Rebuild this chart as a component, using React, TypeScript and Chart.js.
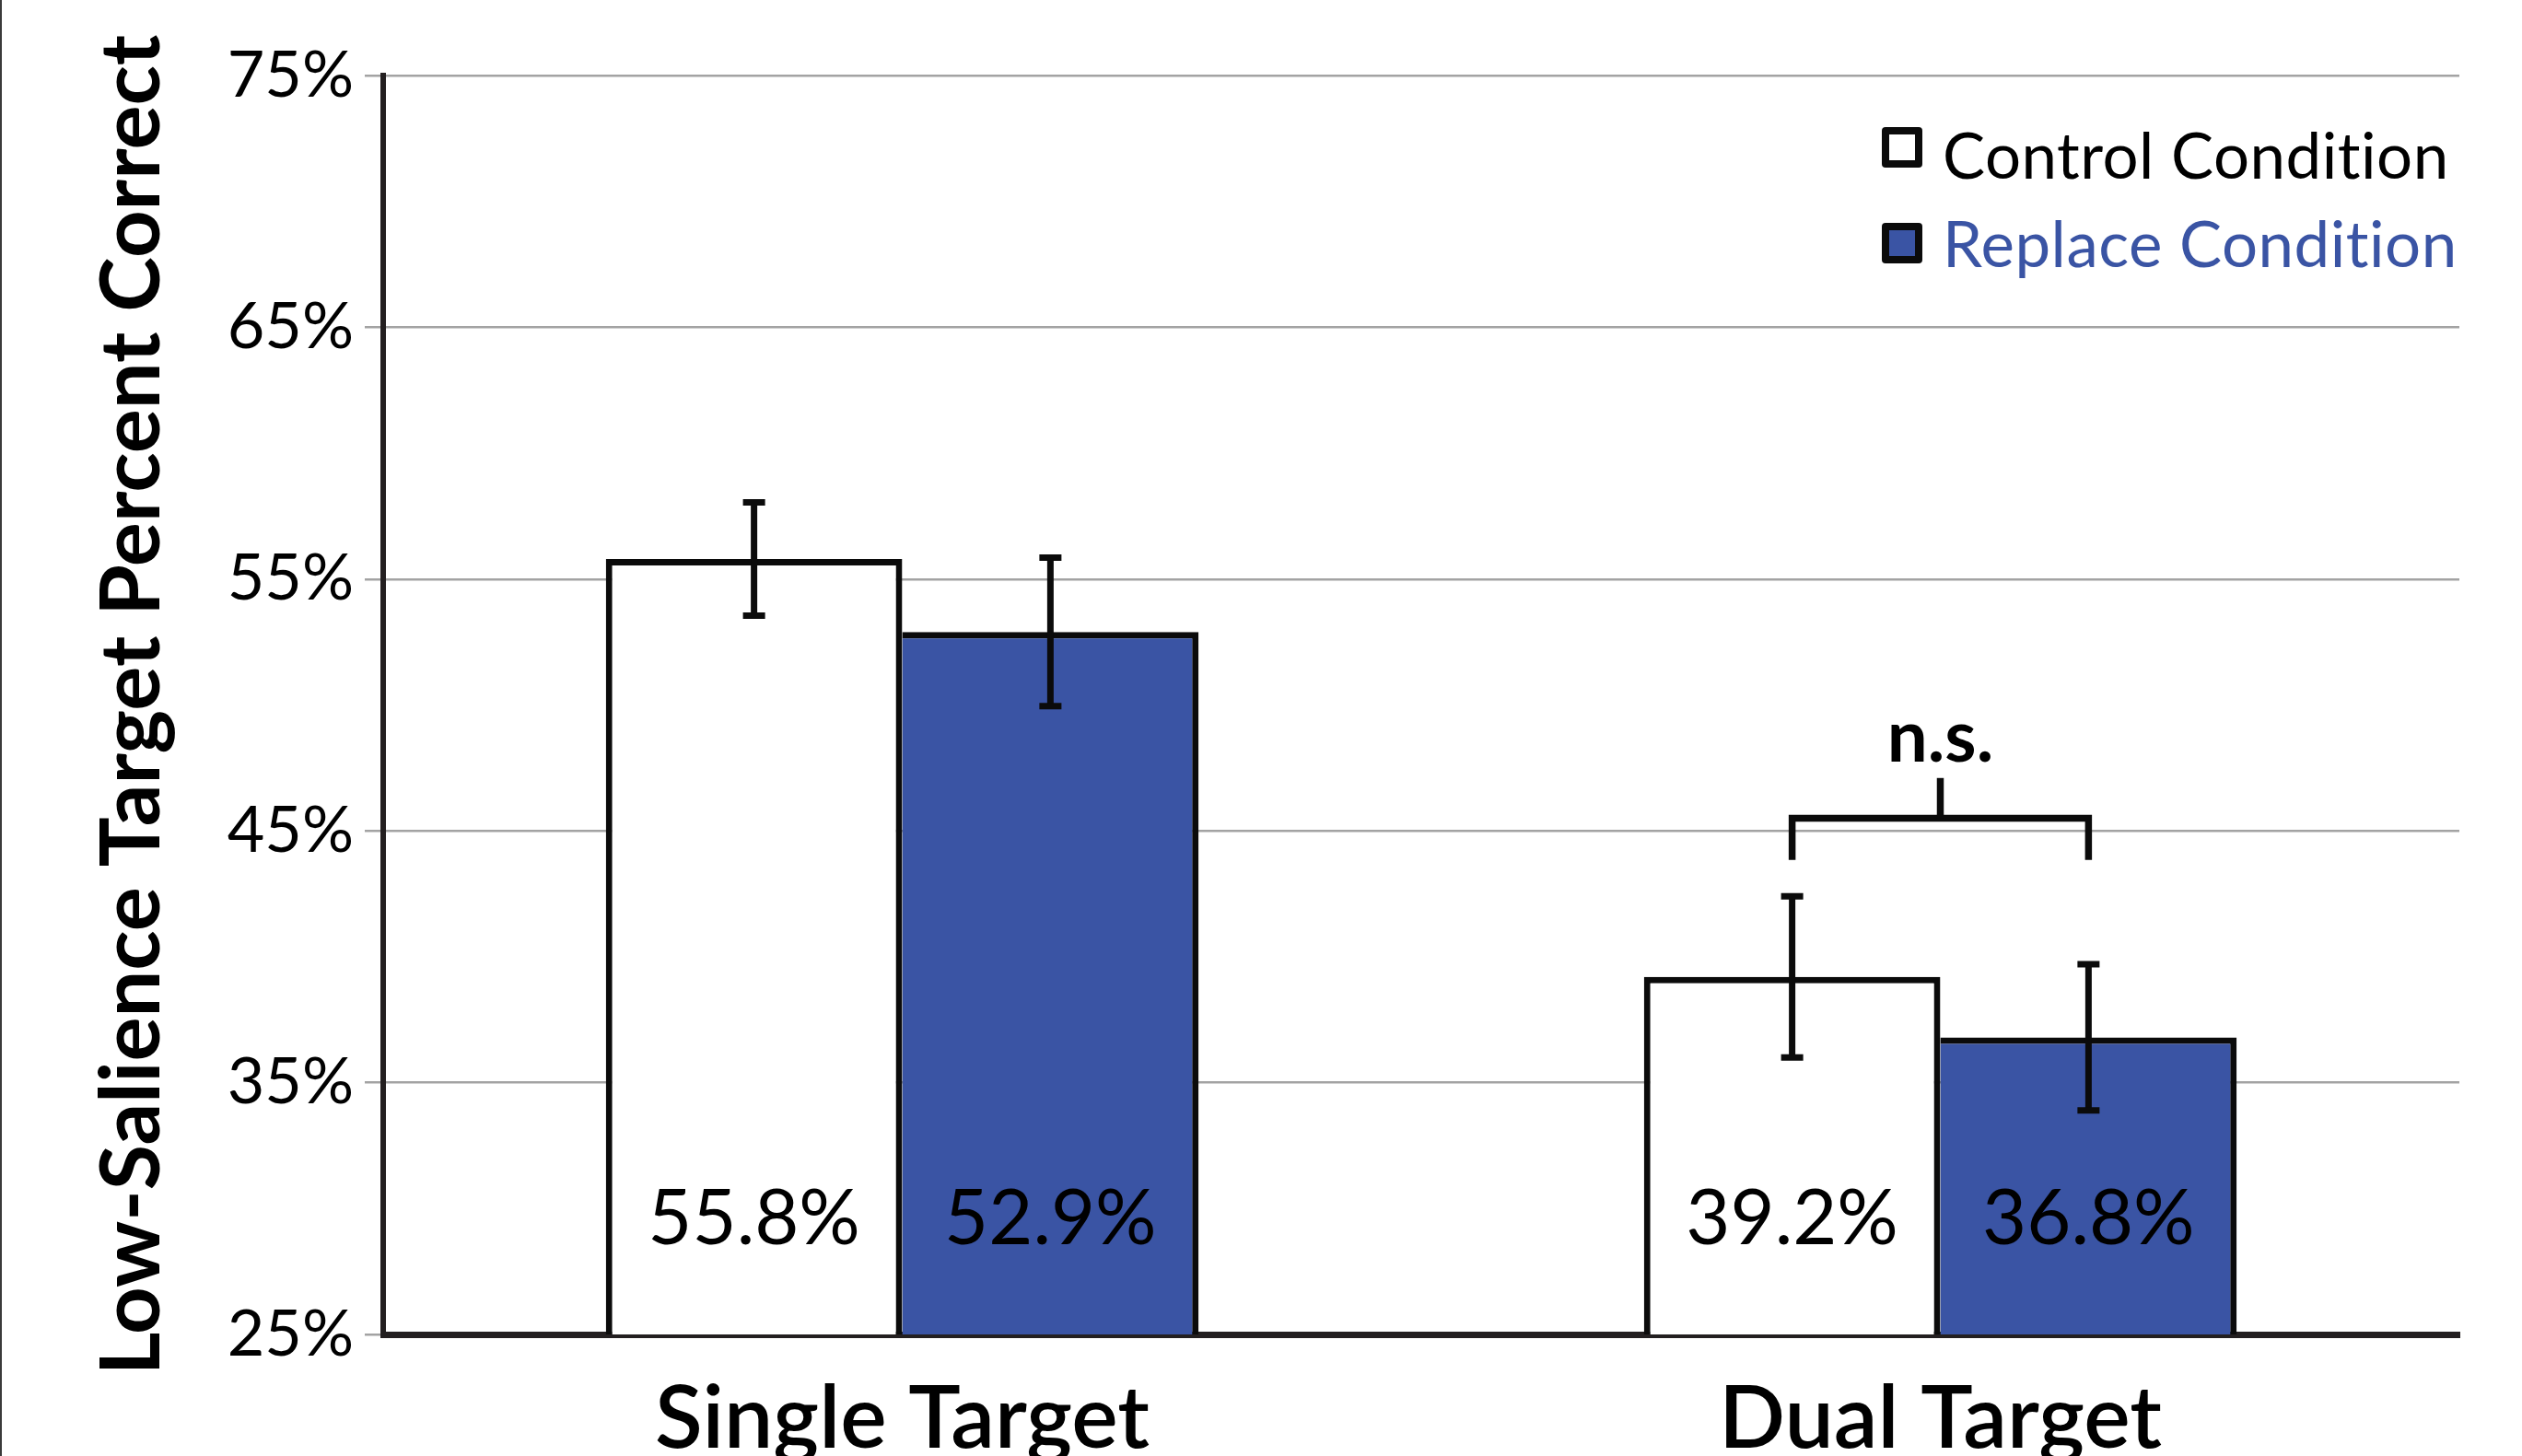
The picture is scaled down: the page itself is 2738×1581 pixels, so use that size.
import React, { useEffect, useRef } from 'react';
import { Chart, registerables } from 'chart.js';

Chart.register(...registerables);

// ---- data ----
const categories = ['Single Target', 'Dual Target'];
const seriesLabels = ['Control Condition', 'Replace Condition'];
const controlValues = [55.8, 39.2];
const replaceValues = [52.9, 36.8];
const controlErrors = [2.25, 3.2];
const replaceErrors = [2.95, 2.9];
const yMin = 25;
const yMax = 75;
const yStep = 10;
const yTitle = 'Low-Salience Target Percent Correct';
const bracketText = 'n.s.';
const bracketCategory = 1;
// bracket levels (data units)
const bracketLegBottom = 43.85;
const bracketBar = 45.5;
const bracketStemTop = 47.1;
const bracketTextBase = 47.75;
const valueLabelBase = 28.6;

// ---- styles ----
const BLUE = '#3a54a4';
const INK = '#0b0b0b';
const AXIS = '#231f20';
const GRID = '#a3a3a3';
const FONT = 'Lato, "Noto Sans", sans-serif';

const fmt = (v: number) => v.toFixed(1) + '%';

const overlay = {
  id: 'overlay',
  afterDatasetsDraw(chart: any) {
    const ctx = chart.ctx;
    const ys = chart.scales.y;
    const errs = [controlErrors, replaceErrors];
    ctx.save();
    chart.data.datasets.forEach((ds: any, di: number) => {
      const meta = chart.getDatasetMeta(di);
      meta.data.forEach((bar: any, i: number) => {
        const v = ds.data[i];
        const e = errs[di][i];
        const x = bar.x;
        const yt = ys.getPixelForValue(v + e);
        const yb = ys.getPixelForValue(v - e);
        ctx.strokeStyle = INK;
        ctx.lineCap = 'butt';
        ctx.lineWidth = 7;
        ctx.beginPath();
        ctx.moveTo(x, yt);
        ctx.lineTo(x, yb);
        ctx.stroke();
        ctx.lineWidth = 7;
        ctx.beginPath();
        ctx.moveTo(x - 12, yt);
        ctx.lineTo(x + 12, yt);
        ctx.moveTo(x - 12, yb);
        ctx.lineTo(x + 12, yb);
        ctx.stroke();
        ctx.fillStyle = '#000';
        ctx.font = `400 83px ${FONT}`;
        ctx.textAlign = 'center';
        ctx.textBaseline = 'alphabetic';
        ctx.fillText(fmt(v), x, ys.getPixelForValue(valueLabelBase));
      });
    });
    // significance bracket
    const b0 = chart.getDatasetMeta(0).data[bracketCategory];
    const b1 = chart.getDatasetMeta(1).data[bracketCategory];
    const xl = b0.x;
    const xr = b1.x;
    const xm = (xl + xr) / 2;
    const yLeg = ys.getPixelForValue(bracketLegBottom);
    const yBar = ys.getPixelForValue(bracketBar);
    const yStem = ys.getPixelForValue(bracketStemTop);
    ctx.strokeStyle = INK;
    ctx.lineWidth = 7.5;
    ctx.lineJoin = 'miter';
    ctx.beginPath();
    ctx.moveTo(xl, yLeg);
    ctx.lineTo(xl, yBar);
    ctx.lineTo(xr, yBar);
    ctx.lineTo(xr, yLeg);
    ctx.stroke();
    ctx.beginPath();
    ctx.moveTo(xm, yBar);
    ctx.lineTo(xm, yStem);
    ctx.stroke();
    ctx.fillStyle = '#000';
    ctx.font = `700 78px ${FONT}`;
    ctx.textAlign = 'center';
    ctx.textBaseline = 'alphabetic';
    ctx.fillText(bracketText, xm, ys.getPixelForValue(bracketTextBase));
    ctx.restore();
  },
  afterDraw(chart: any) {
    const ctx = chart.ctx;
    const area = chart.chartArea;
    ctx.save();
    // thin frame line at the left edge
    ctx.fillStyle = '#3a3a3a';
    ctx.fillRect(0, 0, 2, chart.height);
    // legend
    const boxX = area.right - 627;
    const rows = [
      { top: 138, base: 194 },
      { top: 242, base: 290 },
    ];
    chart.data.datasets.forEach((ds: any, di: number) => {
      const r = rows[di];
      const size = 44;
      ctx.fillStyle = INK;
      ctx.beginPath();
      (ctx as any).roundRect(boxX, r.top, size, size, 4);
      ctx.fill();
      ctx.fillStyle = ds.backgroundColor;
      ctx.fillRect(boxX + 8, r.top + 8, size - 16, size - 16);
      ctx.fillStyle = di === 0 ? '#000' : BLUE;
      ctx.font = `400 69px ${FONT}`;
      (ctx as any).letterSpacing = '0.5px';
      ctx.textAlign = 'left';
      ctx.textBaseline = 'alphabetic';
      ctx.fillText(ds.label, boxX + 66, r.base);
      (ctx as any).letterSpacing = '0px';
    });
    ctx.restore();
  },
};

export default function App() {
  const ref = useRef<HTMLCanvasElement | null>(null);
  useEffect(() => {
    document.body.style.margin = '0';
    const canvas = ref.current;
    if (!canvas) return;
    const chart = new Chart(canvas, {
      type: 'bar',
      data: {
        labels: categories,
        datasets: [
          {
            label: seriesLabels[0],
            data: controlValues,
            backgroundColor: '#ffffff',
            borderColor: INK,
            borderWidth: 7,
            borderSkipped: 'bottom',
            categoryPercentage: 0.571,
            barPercentage: 1.0,
          },
          {
            label: seriesLabels[1],
            data: replaceValues,
            backgroundColor: BLUE,
            borderColor: INK,
            borderWidth: 7,
            borderSkipped: 'left',
            categoryPercentage: 0.571,
            barPercentage: 1.0,
          },
        ],
      },
      options: {
        animation: false,
        responsive: true,
        maintainAspectRatio: false,
        devicePixelRatio: 1,
        layout: { padding: { top: 82, right: 68, bottom: 0, left: 0 } },
        plugins: {
          legend: { display: false },
          tooltip: { enabled: false },
        },
        scales: {
          x: {
            grid: { display: false, drawTicks: false },
            border: { display: true, color: AXIS, width: 7 },
            ticks: {
              color: '#000',
              padding: 35,
              font: { family: FONT, size: 95, weight: '600' as any, lineHeight: 1.2 },
            },
            afterFit: (s: any) => {
              s.height = 132;
            },
          },
          y: {
            min: yMin,
            max: yMax,
            ticks: {
              stepSize: yStep,
              color: '#000',
              padding: 12,
              font: { family: FONT, size: 70, weight: '400' as any, lineHeight: 1.2 },
              callback: (v: any) => v + '%',
            },
            grid: { color: GRID, lineWidth: 2.5, drawTicks: true, tickLength: 20, tickColor: GRID },
            border: { display: true, color: AXIS, width: 6 },
            title: {
              display: true,
              text: yTitle,
              color: '#000',
              padding: { top: 90, bottom: 0 },
              font: { family: FONT, size: 90, weight: '700' as any, lineHeight: 1.2 },
            },
            afterFit: (s: any) => {
              s.width = 416;
            },
          },
        },
      },
      plugins: [overlay],
    });
    return () => chart.destroy();
  }, []);
  return (
    <div style={{ position: 'fixed', left: 0, top: 0, width: 2738, height: 1581, background: '#fff' }}>
      <canvas ref={ref} />
    </div>
  );
}
